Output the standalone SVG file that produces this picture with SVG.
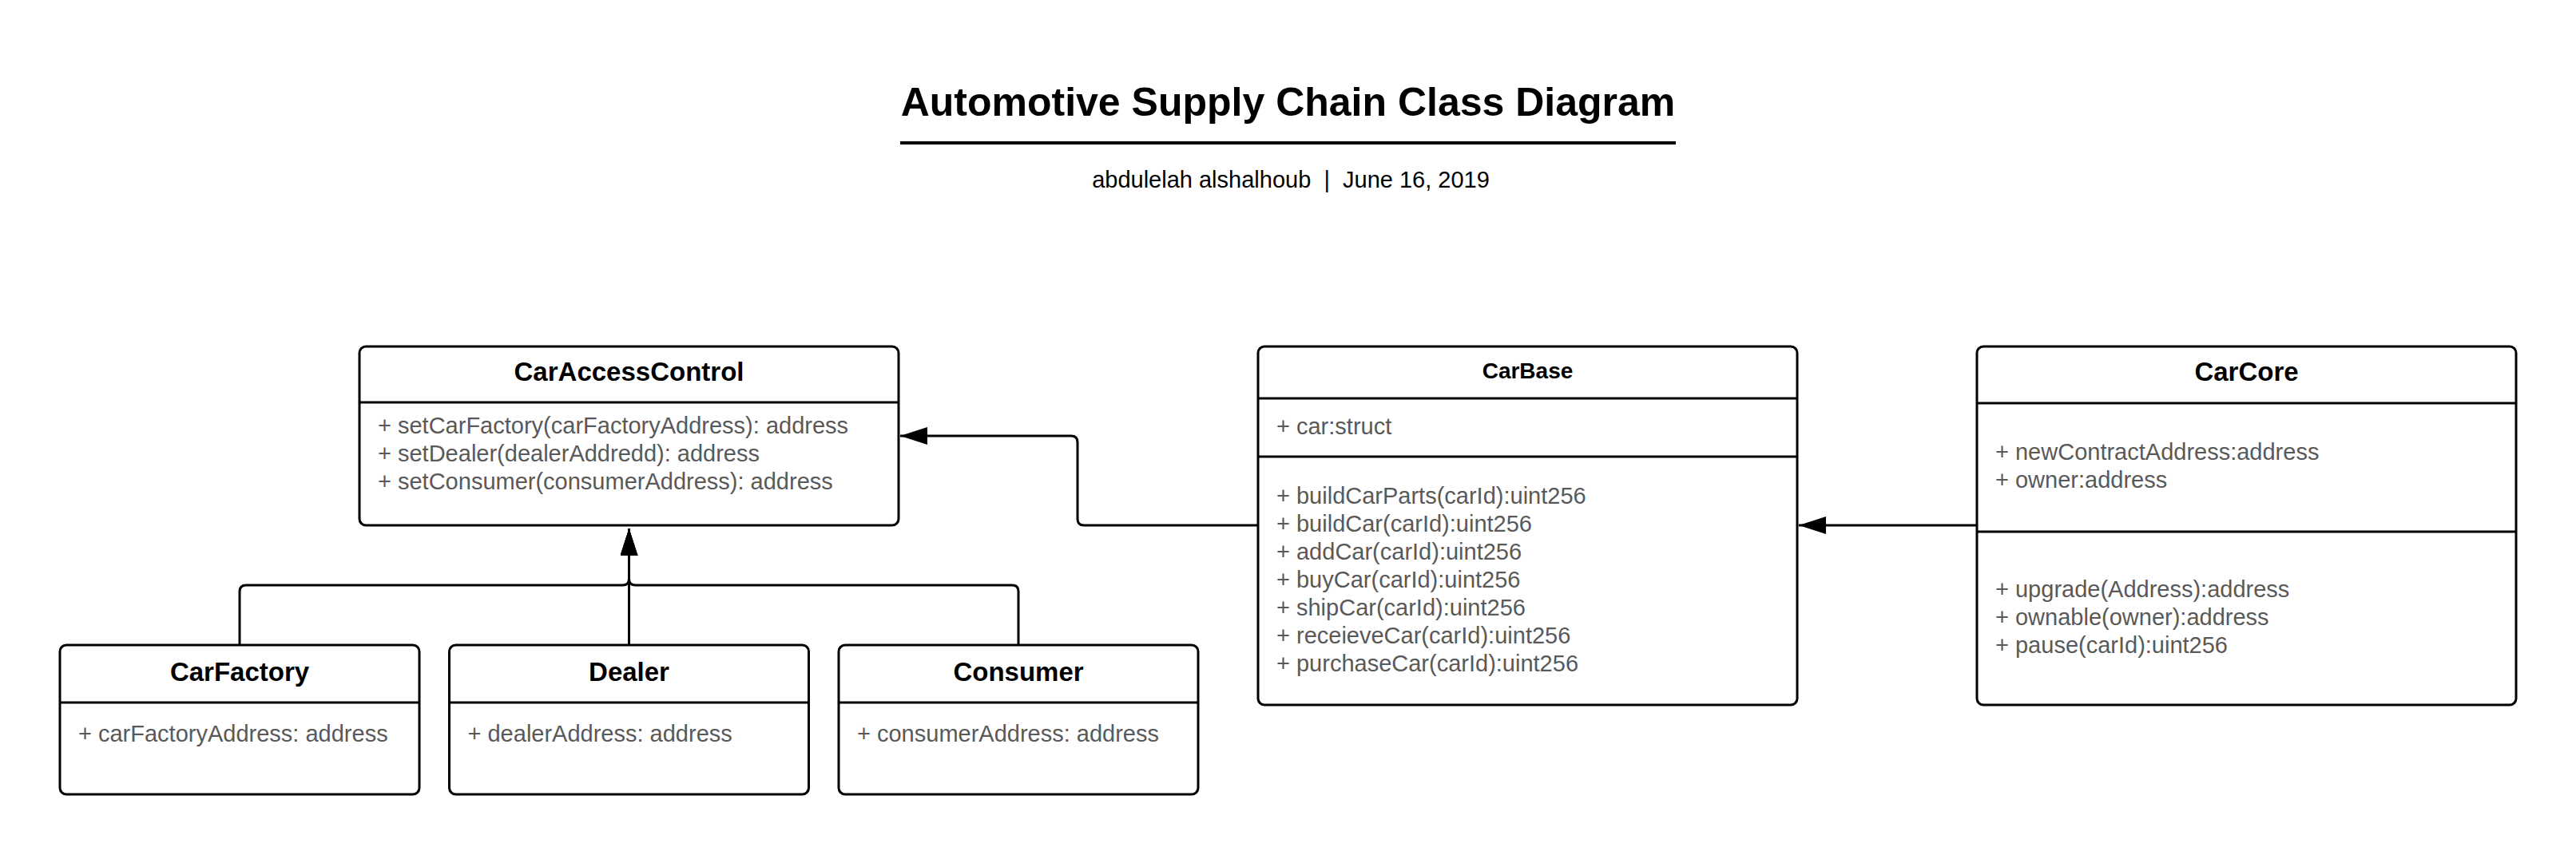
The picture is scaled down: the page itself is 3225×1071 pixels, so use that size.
<svg xmlns="http://www.w3.org/2000/svg" width="3225" height="1071" viewBox="0 0 3225 1071">
<style>
.box{fill:#ffffff;stroke:#000000;stroke-width:3}
.div{stroke:#000000;stroke-width:3;fill:none}
.hd{font-family:"Liberation Sans",Arial,sans-serif;font-weight:bold;font-size:33px;fill:#000000;text-anchor:middle}
.bd{font-family:"Liberation Sans",Arial,sans-serif;font-size:29px;fill:#595959}
.conn{fill:none;stroke:#000000;stroke-width:3}
</style>
<defs>
<marker id="arrow" viewBox="0 0 34 22" refX="34" refY="11" markerWidth="34" markerHeight="22" markerUnits="userSpaceOnUse" orient="auto">
<path d="M0,0 L34,11 L0,22 Z" fill="#000000"/>
</marker>
</defs>
<rect width="3225" height="1071" fill="#ffffff"/>
<g id="title">
<text x="1612.5" y="145" font-family="'Liberation Sans',Arial,sans-serif" font-weight="bold" font-size="50" text-anchor="middle" fill="#000000">Automotive Supply Chain Class Diagram</text>
<line x1="1127" y1="179" x2="2098" y2="179" stroke="#000000" stroke-width="4"/>
<text x="1616" y="235" font-family="'Liberation Sans',Arial,sans-serif" font-size="29" text-anchor="middle" fill="#000000">abdulelah alshalhoub&#160; |&#160; June 16, 2019</text>
</g>
<g id="connectors">
<path class="conn" d="M300,808 V741 Q300,733 308,733 H779.5 Q787.5,733 787.5,725 V662" marker-end="url(#arrow)"/>
<path class="conn" d="M787.5,808 V662" marker-end="url(#arrow)"/>
<path class="conn" d="M1275,808 V741 Q1275,733 1267,733 H795.5 Q787.5,733 787.5,725 V662" marker-end="url(#arrow)"/>
<path class="conn" d="M1575,658 H1357 Q1349,658 1349,650 V554 Q1349,546 1341,546 H1127" marker-end="url(#arrow)"/>
<path class="conn" d="M2475,658 H2252" marker-end="url(#arrow)"/>
</g>
<g id="CarAccessControl">
<rect class="box" x="450" y="434" width="675" height="224" rx="8"/>
<line class="div" x1="450" y1="504" x2="1125" y2="504"/>
<text class="hd" x="787.5" y="477">CarAccessControl</text>
<text class="bd" x="473" y="543">+ setCarFactory(carFactoryAddress): address</text>
<text class="bd" x="473" y="578">+ setDealer(dealerAddredd): address</text>
<text class="bd" x="473" y="613">+ setConsumer(consumerAddress): address</text>
</g>
<g id="CarBase">
<rect class="box" x="1575" y="434" width="675" height="449" rx="8"/>
<line class="div" x1="1575" y1="499" x2="2250" y2="499"/>
<line class="div" x1="1575" y1="572" x2="2250" y2="572"/>
<text class="hd" x="1912.5" y="474" style="font-size:28px">CarBase</text>
<text class="bd" x="1598" y="544">+ car:struct</text>
<text class="bd" x="1598" y="631">+ buildCarParts(carId):uint256</text>
<text class="bd" x="1598" y="666">+ buildCar(carId):uint256</text>
<text class="bd" x="1598" y="701">+ addCar(carId):uint256</text>
<text class="bd" x="1598" y="736">+ buyCar(carId):uint256</text>
<text class="bd" x="1598" y="771">+ shipCar(carId):uint256</text>
<text class="bd" x="1598" y="806">+ receieveCar(carId):uint256</text>
<text class="bd" x="1598" y="841">+ purchaseCar(carId):uint256</text>
</g>
<g id="CarCore">
<rect class="box" x="2475" y="434" width="675" height="449" rx="8"/>
<line class="div" x1="2475" y1="505" x2="3150" y2="505"/>
<line class="div" x1="2475" y1="666" x2="3150" y2="666"/>
<text class="hd" x="2812.5" y="477">CarCore</text>
<text class="bd" x="2498" y="576">+ newContractAddress:address</text>
<text class="bd" x="2498" y="611">+ owner:address</text>
<text class="bd" x="2498" y="748">+ upgrade(Address):address</text>
<text class="bd" x="2498" y="783">+ ownable(owner):address</text>
<text class="bd" x="2498" y="818">+ pause(carId):uint256</text>
</g>
<g id="CarFactory">
<rect class="box" x="75" y="808" width="450" height="187" rx="8"/>
<line class="div" x1="75" y1="880" x2="525" y2="880"/>
<text class="hd" x="300" y="853">CarFactory</text>
<text class="bd" x="98" y="929">+ carFactoryAddress: address</text>
</g>
<g id="Dealer">
<rect class="box" x="562.5" y="808" width="450" height="187" rx="8"/>
<line class="div" x1="562.5" y1="880" x2="1012.5" y2="880"/>
<text class="hd" x="787.5" y="853">Dealer</text>
<text class="bd" x="585.5" y="929">+ dealerAddress: address</text>
</g>
<g id="Consumer">
<rect class="box" x="1050" y="808" width="450" height="187" rx="8"/>
<line class="div" x1="1050" y1="880" x2="1500" y2="880"/>
<text class="hd" x="1275" y="853">Consumer</text>
<text class="bd" x="1073" y="929">+ consumerAddress: address</text>
</g>
</svg>
